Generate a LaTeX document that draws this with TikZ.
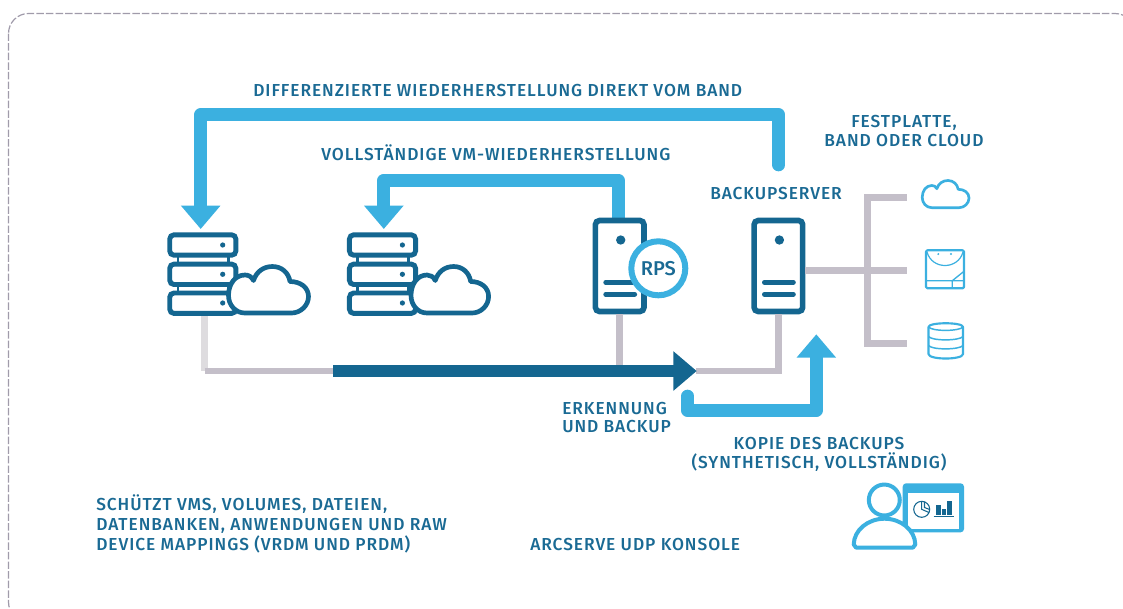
\documentclass[tikz,border=0pt]{standalone}
\usepackage{fontspec}
\setmainfont[LetterSpace=5.5]{Fira Sans Medium}
\usetikzlibrary{arrows.meta}
\definecolor{dk}{HTML}{146690}
\definecolor{lb}{HTML}{3BB0E0}
\definecolor{gr}{HTML}{C4BFC9}
\definecolor{lg}{HTML}{DEDCDF}
\definecolor{bd}{HTML}{A09BAA}
\definecolor{tx}{HTML}{1A6A94}
\newcommand{\cloudpath}{(16.5,46.5) .. controls (7,46.5) and (0,38.5) .. (0,29) .. controls (0,17) and (7,8.5) .. (16.5,8.5) .. controls (20,8.5) and (23,10) .. (25,14) .. controls (28,5) and (35,0) .. (44,0) .. controls (53,0) and (60,6) .. (61.5,15) .. controls (72,15) and (80,21) .. (80,30) .. controls (80,39) and (72,46.5) .. (63,46.5) -- cycle}
\tikzset{
  x=.75pt,y=-.75pt,
  txt/.style={text=tx,inner sep=0pt,font=\fontsize{13}{15}\selectfont},
  row/.style={draw=dk,line width=3.7pt,rounded corners=3.2pt,fill=white,minimum width=49.6pt,minimum height=15.3pt,inner sep=0pt},
  srv/.style={draw=dk,line width=4.2pt,rounded corners=3pt,fill=white,minimum width=36.4pt,minimum height=68.2pt,inner sep=0pt},
  bigblue/.style={draw=lb,line width=9.5pt,line cap=round,line join=round},
  blueflow/.style={bigblue,-{Triangle[length=17.5pt,width=28.5pt]}},
  pipe/.style={draw=gr,line width=5.2pt},
  slot/.style={draw=dk,line width=3.6pt,line cap=round},
  dotm/.style={fill=dk,circle,inner sep=0pt,minimum size=#1},
  icon/.style={draw=lb,line width=1.6pt,line join=round}
}
\begin{document}
\begin{tikzpicture}
\useasboundingbox (0,0) rectangle (1123,608);
\fill[white] (0,0) rectangle (1123,608);
\begin{scope}
\clip (0,0) rectangle (1123,608);
\draw[draw=bd,line width=.9pt,dash pattern=on 5.6pt off 1.6pt,rounded corners=15pt] (8.5,13.5) rectangle (1135,622);
\end{scope}
% anchors
\coordinate (hub) at (204.5,371);
\coordinate (fb) at (333,371);
\coordinate (trunk) at (867.3,270.7);
\coordinate (tt) at (867.3,197.3);
\coordinate (tb) at (867.3,343.3);
\coordinate (ct) at (906.7,197.3);
\coordinate (cm) at (906.7,270.7);
\coordinate (cb) at (906.7,343.3);
% blue restore line into the RPS server sits under the server
\coordinate (a2s) at (618.5,222);
\coordinate (a2c) at (383.8,180.3);
\coordinate (a2e) at (383.8,229);
\draw[blueflow] (a2s) |- (a2c) -- (a2e);
% servers
\node[srv] (rps) at (619.7,266) {};
\node[srv] (bsrv) at (778.4,266) {};
% pipes
\draw[draw=lg,line width=5.2pt] (204.5,315) -- (hub);
\draw[pipe] (hub) -- (fb);
\draw[pipe] (rps.south) -- (619.7,371);
\draw[pipe,line join=miter] (696,371) -- (bsrv.south |- hub) -- (bsrv.south);
\draw[pipe] (bsrv.east) ++(0,4.7) -- (cm);
\draw[pipe] (ct) -- (tt) -- (tb) -- (cb);
% main flow
\draw[draw=dk,line width=9.5pt,-{Triangle[length=17.5pt,width=28.5pt]}] (fb) -- (696.7,371);
% blue arrows
\coordinate (a1s) at (778.7,165);
\coordinate (a1c) at (200.7,114.7);
\coordinate (a1e) at (200.7,229);
\draw[blueflow] (a1s) |- (a1c) -- (a1e);
\coordinate (a3s) at (687.6,396);
\coordinate (a3c) at (816.3,410.5);
\coordinate (a3e) at (816.3,334.3);
\draw[blueflow] (a3s) |- (a3c) -- (a3e);
% stacks
\foreach \n/\dx in {a/0,b/179.7}{
  \draw[dk,line width=2.2pt] (178+\dx,256) -- (178+\dx,265) (228.5+\dx,256) -- (228.5+\dx,265) (178+\dx,285) -- (178+\dx,294) (228.5+\dx,285) -- (228.5+\dx,294);
  \node[row] (\n1) at (202.8+\dx,245) {};
  \node[row] (\n2) at (202.8+\dx,274.3) {};
  \node[row] (\n3) at (202.8+\dx,303.2) {};
  \node[dotm=3.9pt] (\n d1) at (222.7+\dx,245) {};
  \node[dotm=3.9pt] (\n d2) at (222.7+\dx,274.3) {};
  \node[dotm=3.9pt] (\n d3) at (222.7+\dx,303) {};
}
% clouds
\begin{scope}[shift={(228.5,266.5)}]
\draw[dk,line width=3.5pt,fill=white,line join=round] \cloudpath;
\end{scope}
\begin{scope}[shift={(411,266.5)},xscale=.97]
\draw[dk,line width=3.5pt,fill=white,line join=round] \cloudpath;
\end{scope}
% server details
\foreach \s/\cx in {rps/619.7,bsrv/778.4}{
  \node[dotm=7pt] (\s dot) at (\cx+1,240) {};
  \draw[slot] (\cx-14,282.3) -- (\cx+15,282.3);
  \draw[slot] (\cx-14,294.3) -- (\cx+15,294.3);
}
\node[circle,draw=lb,line width=4.5pt,fill=white,minimum size=40.5pt,inner sep=0pt,text=tx,font=\fontsize{15}{15}\selectfont\addfontfeature{LetterSpace=0}] (rpsb) at (658.3,268.3) {RPS};
% storage icons
\begin{scope}[shift={(922.2,180.5)},scale=.585]
\draw[icon,line width=2pt] \cloudpath;
\end{scope}
\draw[icon,rounded corners=1pt] (926,250.3) rectangle (964,288.3);
\draw[icon,line width=.9pt] (927,252) .. controls (932,270) and (958,270) .. (963,252);
\draw[icon,line width=1pt] (926,280.7) -- (964,280.7) (952.3,280.7) -- (952.3,288.3) (952.3,280.7) -- (963.5,271.7);
\node[fill=lb,circle,inner sep=0pt,minimum size=1.6pt] (d1) at (938.3,254) {};
\node[fill=lb,circle,inner sep=0pt,minimum size=1.6pt] (d2) at (951,254) {};
\draw[icon] (928.5,327) .. controls (928.5,322) and (963,322) .. (963,327) -- (963,354) .. controls (963,360) and (928.5,360) .. (928.5,354) -- cycle;
\draw[icon,line width=1.1pt] (928.5,327) .. controls (932,331.5) and (959,331.5) .. (963,327);
\draw[icon,line width=1.1pt] (928.5,336.5) .. controls (932,341) and (959,341) .. (963,336.5);
\draw[icon,line width=1.1pt] (928.5,345.5) .. controls (932,350) and (959,350) .. (963,345.5);
% console icon
\fill[lb,rounded corners=2.5pt] (902.7,483.3) rectangle (964,532.3);
\fill[white] (907.7,492.7) rectangle (959.3,529);
\draw[dk,line width=.8pt] (921.7,509.3) circle[radius=8];
\draw[dk,line width=.8pt] (921.7,501.3) -- (921.7,509.3) -- (929,512.5);
\draw[dk,line width=.8pt] (924.5,501.5) -- (924.5,507.5) -- (929.7,509.5);
\fill[dk] (935.7,505) rectangle (940.7,515);
\fill[dk] (941.7,509.3) rectangle (946,515);
\fill[dk] (947.3,500.7) rectangle (952,515);
\draw[dk,line width=.9pt] (933.7,516.5) -- (954,516.5);
\draw[lb,line width=3pt,fill=white,line join=round] (856,547.5) -- (913,547.5) -- (915.3,544.5) .. controls (915,530) and (901,518.7) .. (884.5,518.7) .. controls (868,518.7) and (854,530) .. (853.7,544.5) -- cycle;
\node[circle,draw=lb,line width=3pt,fill=white,minimum size=23.2pt,inner sep=0pt] (head) at (884.3,500) {};
% labels
\node[txt,anchor=base west] (t1) at (253,96) {DIFFERENZIERTE WIEDERHERSTELLUNG DIREKT VOM BAND};
\node[txt,anchor=base west] (t2) at (321,160) {VOLLSTÄNDIGE VM-WIEDERHERSTELLUNG};
\node[txt,anchor=base west] (t3) at (710,199) {BACKUPSERVER};
\node[txt,align=center,anchor=base] (t4) at (904,146.7) {FESTPLATTE,\\[-.75pt]BAND ODER CLOUD};
\node[txt,align=left,anchor=base west] (t5) at (562,432) {ERKENNUNG\\[-1.5pt]UND BACKUP};
\node[txt,align=center,anchor=base] (t6) at (819,468) {KOPIE DES BACKUPS\\[-.75pt](SYNTHETISCH, VOLLSTÄNDIG)};
\node[txt,align=left,anchor=base west] (t7) at (96,550) {SCHÜTZT VMS, VOLUMES, DATEIEN,\\DATENBANKEN, ANWENDUNGEN UND RAW\\DEVICE MAPPINGS (VRDM UND PRDM)};
\node[txt,anchor=base west] (t8) at (530,550) {ARCSERVE UDP KONSOLE};
\end{tikzpicture}
\end{document}
